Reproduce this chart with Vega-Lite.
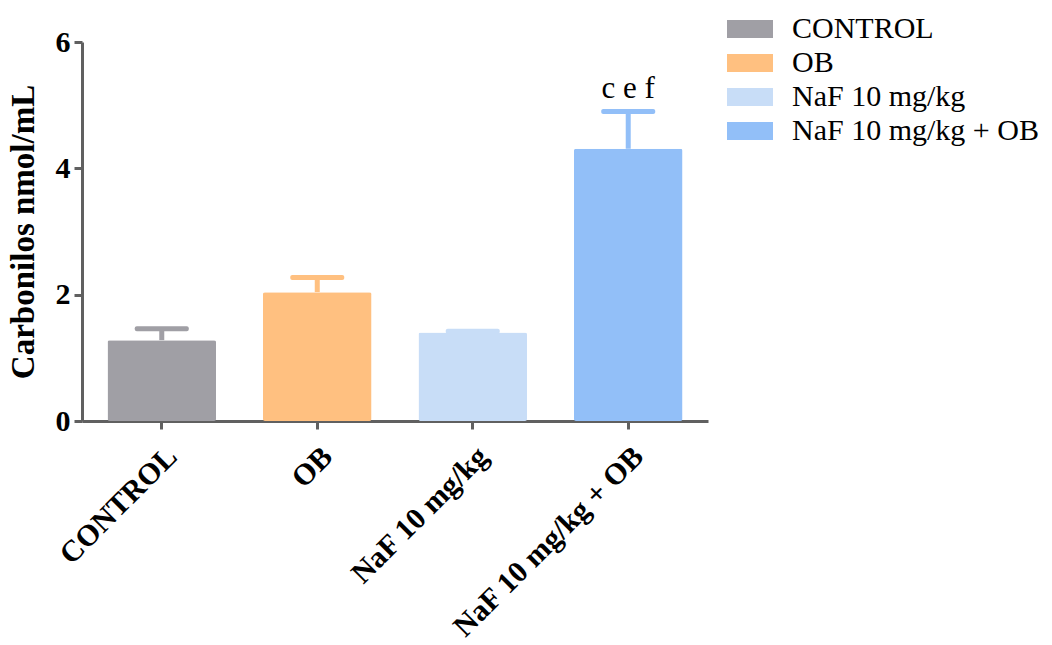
{
  "$schema": "https://vega.github.io/schema/vega-lite/v6.json",
  "width": 626,
  "height": 379,
  "autosize": "none",
  "padding": {"left": 82, "top": 42, "right": 344, "bottom": 224},
  "background": "white",
  "data": {"values": [
    {"group": "CONTROL", "mean": 1.28, "upper": 1.46, "label": ""},
    {"group": "OB", "mean": 2.04, "upper": 2.27, "label": ""},
    {"group": "NaF 10 mg/kg", "mean": 1.40, "upper": 1.42, "label": ""},
    {"group": "NaF 10 mg/kg + OB", "mean": 4.31, "upper": 4.90, "label": "c e f"}
  ]},
  "encoding": {
    "x": {
      "field": "group", "type": "nominal", "sort": null,
      "scale": {"paddingInner": 0.302, "paddingOuter": 0.164},
      "axis": {"title": null, "labelAngle": -45, "labelFontSize": 30, "labelPadding": 12, "labelDx": -5, "labelLimit": 400}
    }
  },
  "layer": [
    {
      "mark": {"type": "bar", "cornerRadius": 2},
      "encoding": {
        "y": {
          "field": "mean", "type": "quantitative",
          "scale": {"domain": [0, 6]},
          "title": "Carbonilos nmol/mL",
          "axis": {"values": [0, 2, 4, 6], "format": "d", "labelFontSize": 30, "labelPadding": 4, "titleFontSize": 33, "titlePadding": 15}
        },
        "color": {
          "field": "group", "type": "nominal",
          "scale": {
            "domain": ["CONTROL", "OB", "NaF 10 mg/kg", "NaF 10 mg/kg + OB"],
            "range": ["#a09fa5", "#ffc080", "#c8ddf7", "#92bff8"]
          },
          "legend": {
            "orient": "none", "legendX": 653, "legendY": -28, "title": null,
            "symbolType": "M-2,-0.78H2V0.78H-2Z", "symbolSize": 529,
            "symbolStrokeWidth": 0, "symbolOpacity": 1,
            "labelFont": "Liberation Serif", "labelFontSize": 30, "labelColor": "black",
            "labelOffset": 27, "labelLimit": 400, "rowPadding": 4
          }
        }
      }
    },
    {
      "mark": {"type": "rule", "strokeWidth": 5, "opacity": 1},
      "encoding": {
        "y": {"field": "mean", "type": "quantitative", "title": "Carbonilos nmol/mL"},
        "y2": {"field": "upper"},
        "color": {"field": "group", "type": "nominal"}
      }
    },
    {
      "mark": {"type": "tick", "thickness": 5, "size": 54, "cornerRadius": 2, "opacity": 1},
      "encoding": {
        "y": {"field": "upper", "type": "quantitative", "title": "Carbonilos nmol/mL"},
        "color": {"field": "group", "type": "nominal"}
      }
    },
    {
      "mark": {"type": "text", "font": "Liberation Serif", "fontSize": 31, "color": "black", "baseline": "bottom", "dy": -6},
      "encoding": {
        "y": {"field": "upper", "type": "quantitative", "title": "Carbonilos nmol/mL"},
        "text": {"field": "label"}
      }
    }
  ],
  "config": {
    "view": {"stroke": null},
    "axis": {
      "grid": false,
      "domainColor": "#606060", "domainWidth": 3,
      "tickColor": "#606060", "tickWidth": 3, "tickSize": 8,
      "labelFont": "Liberation Serif", "labelFontWeight": "bold", "labelColor": "black",
      "titleFont": "Liberation Serif", "titleFontWeight": "bold", "titleColor": "black"
    }
  }
}
